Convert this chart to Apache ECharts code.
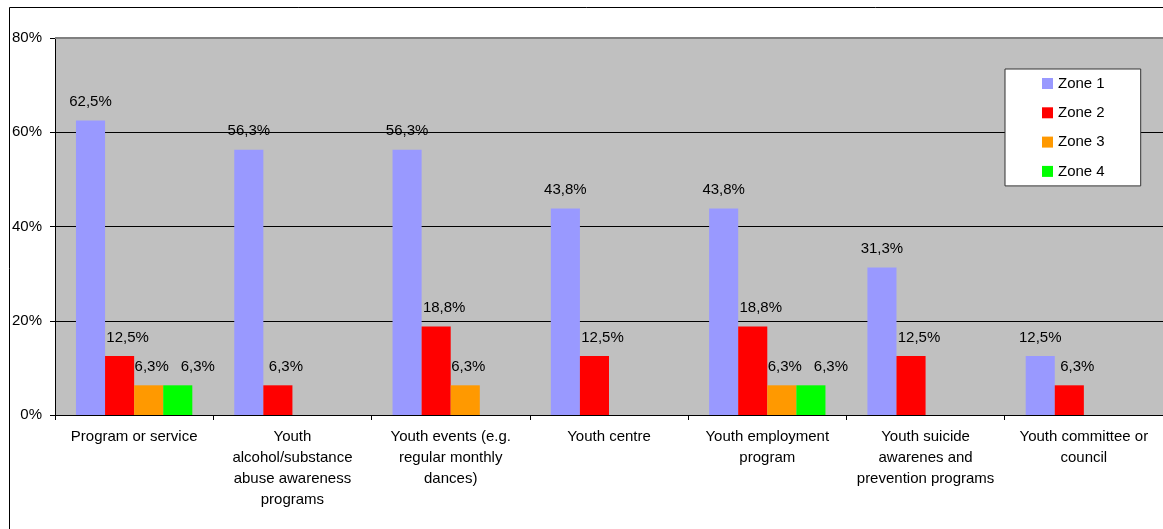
<!DOCTYPE html>
<html>
<head>
<meta charset="utf-8">
<style>
  html, body { margin: 0; padding: 0; background: #ffffff; }
  #chart { width: 1163px; height: 529px; }
</style>
<script src="https://cdn.jsdelivr.net/npm/echarts@6/dist/echarts.min.js"></script>
</head>
<body>
<div id="chart"></div>
<script>
// Youth programs wanted, share of responses per zone
const categories = [
  'Program or service',
  'Youth\nalcohol/substance\nabuse awareness\nprograms',
  'Youth events (e.g.\nregular monthly\ndances)',
  'Youth centre',
  'Youth employment\nprogram',
  'Youth suicide\nawarenes and\nprevention programs',
  'Youth committee or\ncouncil'
];
const zone1 = [62.5, 56.3, 56.3, 43.8, 43.8, 31.3, 12.5];
const zone2 = [12.5, 6.3, 18.8, 12.5, 18.8, 12.5, 6.3];
const zone3 = [6.3, null, 6.3, null, 6.3, null, null];
const zone4 = [6.3, null, null, null, 6.3, null, null];
const yTicks = [0, 20, 40, 60, 80];

const FONT = '"Liberation Sans", Arial, sans-serif';

function pct(v) {
  return v.toFixed(1).replace('.', ',') + '%';
}

function makeSeries(name, data, color, dx) {
  return {
    name: name,
    type: 'bar',
    data: data,
    barGap: '0%',
    barCategoryGap: '26.5%',
    itemStyle: { color: color },
    label: {
      show: true,
      position: 'top',
      distance: 11,
      offset: [dx, 0],
      fontFamily: FONT,
      fontSize: 15,
      color: '#000',
      formatter: p => (p.value == null ? '' : pct(p.value))
    }
  };
}

const chart = echarts.init(document.getElementById('chart'), null, { renderer: 'canvas' });

const series = [
  makeSeries('Zone 1', zone1, '#9999FF', 0),
  makeSeries('Zone 2', zone2, '#FF0000', 8),
  makeSeries('Zone 3', zone3, '#FF9900', 3),
  makeSeries('Zone 4', zone4, '#00FF00', 20)
];
// grey top edge of the plot area
series[0].markLine = {
  silent: true,
  symbol: 'none',
  label: { show: false },
  lineStyle: { color: '#808080', width: 2, type: 'solid' },
  data: [{ yAxis: yTicks[yTicks.length - 1] }]
};

chart.setOption({
  animation: false,
  backgroundColor: '#ffffff',
  textStyle: { fontFamily: FONT },
  graphic: [{
    type: 'rect',
    shape: { x: 9.5, y: 7.5, width: 1200, height: 600 },
    style: { fill: 'none', stroke: '#000', lineWidth: 1 },
    silent: true,
    z: -10
  }],
  grid: {
    left: 55,
    top: 38,
    bottom: 114,
    width: 1116.5,
    show: true,
    backgroundColor: '#C0C0C0',
    borderWidth: 0
  },
  legend: {
    orient: 'vertical',
    left: 1005,
    top: 69,
    itemWidth: 11,
    itemHeight: 11,
    itemGap: 14.3,
    padding: [7, 36, 7, 37],
    backgroundColor: '#ffffff',
    borderColor: '#333333',
    borderWidth: 1,
    icon: 'rect',
    textStyle: { fontFamily: FONT, fontSize: 15, color: '#000', lineHeight: 15 },
    data: ['Zone 1', 'Zone 2', 'Zone 3', 'Zone 4']
  },
  xAxis: {
    type: 'category',
    data: categories,
    boundaryGap: true,
    axisLine: { show: true, lineStyle: { color: '#000', width: 1 } },
    axisTick: { show: true, length: 5, interval: 0, lineStyle: { color: '#000' } },
    axisLabel: {
      interval: 0,
      margin: 11,
      fontFamily: FONT,
      fontSize: 15,
      lineHeight: 21,
      color: '#000',
      align: 'center'
    },
    splitLine: { show: false }
  },
  yAxis: {
    type: 'value',
    min: yTicks[0],
    max: yTicks[yTicks.length - 1],
    interval: 20,
    axisLine: { show: true, lineStyle: { color: '#000', width: 1 } },
    axisTick: { show: true, length: 5, inside: false, lineStyle: { color: '#000' } },
    axisLabel: {
      margin: 13,
      fontFamily: FONT,
      fontSize: 15,
      color: '#000',
      formatter: v => v + '%'
    },
    splitLine: { show: true, lineStyle: { color: '#000', width: 1 } }
  },
  series: series
});
</script>
</body>
</html>
